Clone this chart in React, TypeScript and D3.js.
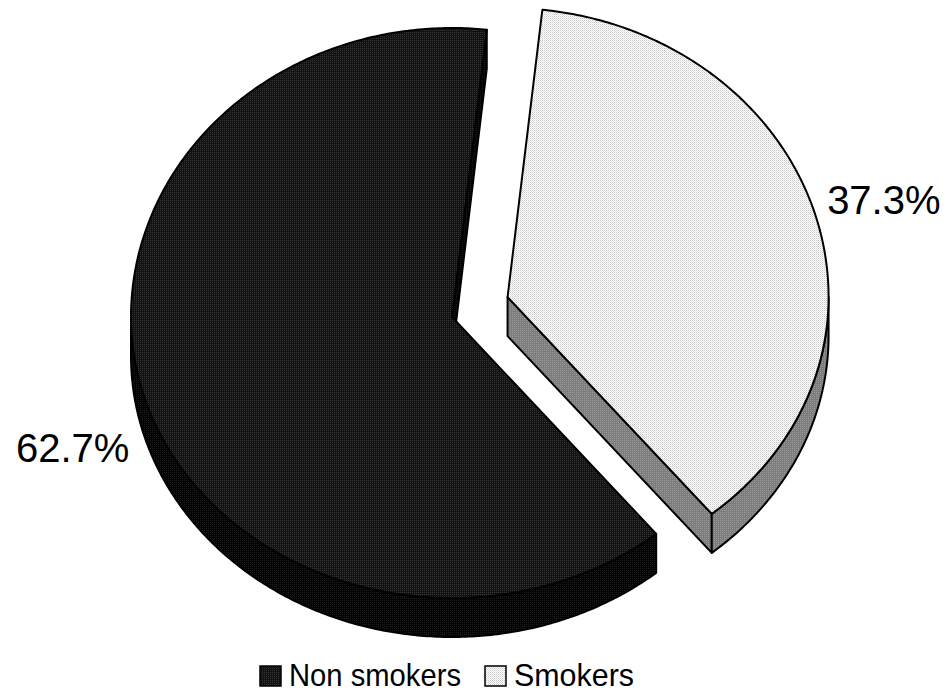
import React from 'react';
import * as d3 from 'd3';

// ---- data ----
const categories: string[] = ['Non smokers', 'Smokers'];
const values: number[] = [62.7, 37.3];
const labels: string[] = ['62.7%', '37.3%'];
const exploded: number[] = [0, 58];

// ---- layout ----
const W = 952;
const H = 694;
const cx = 452;
const cy = 317;
const rx = 321;
const ryTop = 289;
const ryBot = 281;
const depth = 39;
const startDeg = 140.5;
const labelOffsets: [number, number, 'start' | 'end'][] = [
  [-15, 65, 'end'],
  [12, 0, 'start'],
];
const topFills = ['url(#darkTop)', 'url(#lightTop)'];
const sideFills = ['url(#darkSide)', 'url(#lightSide)'];

function pt(t: number, ox: number, oy: number, dy = 0): [number, number] {
  const c = Math.cos(t);
  const ry = c > 0 ? ryTop : ryBot;
  return [cx + ox + rx * Math.sin(t), cy + oy - ry * c + dy];
}

const line = d3.line<[number, number]>().x((d) => d[0]).y((d) => d[1]);

function arcPts(a0: number, a1: number, ox: number, oy: number, dy = 0): [number, number][] {
  const n = Math.max(2, Math.ceil(Math.abs(a1 - a0) / 0.01));
  return d3.range(n + 1).map((i) => pt(a0 + ((a1 - a0) * i) / n, ox, oy, dy));
}

export default function App() {
  const pie = d3
    .pie<number>()
    .sort(null)
    .value((d) => d)
    .startAngle((startDeg * Math.PI) / 180)
    .endAngle((startDeg * Math.PI) / 180 + 2 * Math.PI);
  const arcs = pie(values);

  const slices = arcs.map((a, i) => {
    const a0 = a.startAngle;
    const a1 = a.endAngle;
    const mid = (a0 + a1) / 2;
    const ox = exploded[i] * Math.sin(mid);
    const oy = -exploded[i] * 1.2 * Math.cos(mid);
    const apex: [number, number] = [cx + ox, cy + oy];
    const apexD: [number, number] = [cx + ox, cy + oy + depth];

    const top = line([apex, ...arcPts(a0, a1, ox, oy)]) + 'Z';

    const walls: string[] = [];
    for (let k = -1; k <= 2; k++) {
      const lo = Math.max(a0, Math.PI / 2 + 2 * Math.PI * k);
      const hi = Math.min(a1, (3 * Math.PI) / 2 + 2 * Math.PI * k);
      if (hi > lo) {
        const upper = arcPts(lo, hi, ox, oy);
        const lower = arcPts(lo, hi, ox, oy, depth).reverse();
        walls.push(line([...upper, ...lower]) + 'Z');
      }
    }

    const faces: string[] = [];
    if (Math.sin(a0) < 0) {
      const r = pt(a0, ox, oy);
      const rd = pt(a0, ox, oy, depth);
      faces.push(line([apex, r, rd, apexD]) + 'Z');
    }
    if (Math.sin(a1) > 0) {
      const r = pt(a1, ox, oy);
      const rd = pt(a1, ox, oy, depth);
      faces.push(line([apex, r, rd, apexD]) + 'Z');
    }

    const rim = pt(mid, ox, oy);
    const [lx, ly, anchor] = labelOffsets[i];
    return { top, walls, faces, label: { x: rim[0] + lx, y: rim[1] + ly, anchor } };
  });

  const font = "'Liberation Sans', Arial, Helvetica, sans-serif";
  const legendX = [260, 485];
  const legendTextLen = [172, 120];

  return (
    <svg
      width={W}
      height={H}
      viewBox={`0 0 ${W} ${H}`}
      style={{ position: 'absolute', left: 0, top: 0, background: '#fff' }}
    >
      <defs>
        <pattern id="darkTop" width="2" height="2" patternUnits="userSpaceOnUse">
          <rect width="2" height="2" fill="#121212" />
          <rect width="1" height="1" fill="#363636" />
        </pattern>
        <pattern id="darkSide" width="2" height="2" patternUnits="userSpaceOnUse">
          <rect width="2" height="2" fill="#040404" />
          <rect width="1" height="1" fill="#1a1a1a" />
        </pattern>
        <pattern id="lightTop" width="2" height="2" patternUnits="userSpaceOnUse">
          <rect width="2" height="2" fill="#ffffff" />
          <rect width="1" height="1" fill="#c8c8c8" />
          <rect x="1" y="1" width="1" height="1" fill="#e4e4e4" />
        </pattern>
        <pattern id="lightSide" width="2" height="2" patternUnits="userSpaceOnUse">
          <rect width="2" height="2" fill="#7c7c7c" />
          <rect width="1" height="1" fill="#9a9a9a" />
        </pattern>
      </defs>
      <rect width={W} height={H} fill="#fff" />
      {slices.map((s, i) => (
        <g key={categories[i]} stroke="#000" strokeWidth={2} strokeLinejoin="round">
          {s.faces.map((d, j) => (
            <path key={'f' + j} d={d} fill={sideFills[i]} />
          ))}
          {s.walls.map((d, j) => (
            <path key={'w' + j} d={d} fill={sideFills[i]} />
          ))}
          <path d={s.top} fill={topFills[i]} />
        </g>
      ))}
      {slices.map((s, i) => (
        <text
          key={'l' + i}
          x={s.label.x}
          y={s.label.y}
          textAnchor={s.label.anchor}
          fontFamily={font}
          fontSize={40}
          fill="#000"
        >
          {labels[i]}
        </text>
      ))}
      {categories.map((c, i) => (
        <g key={'lg' + i}>
          <rect
            x={legendX[i]}
            y={666}
            width={21}
            height={20}
            fill={topFills[i]}
            stroke="#000"
            strokeWidth={1.5}
          />
          <text
            x={legendX[i] + 29}
            y={686}
            fontFamily={font}
            fontSize={32}
            textLength={legendTextLen[i]}
            lengthAdjust="spacingAndGlyphs"
            fill="#000"
          >
            {c}
          </text>
        </g>
      ))}
    </svg>
  );
}
